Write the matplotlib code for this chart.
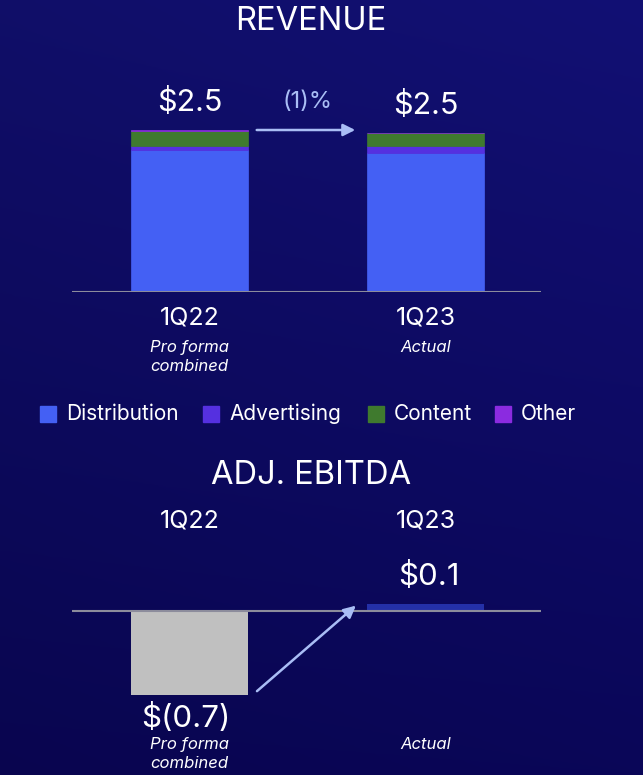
import numpy as np
import matplotlib
matplotlib.use("Agg")
import matplotlib.pyplot as plt
from matplotlib.patches import Rectangle

plt.rcParams['font.family'] = ['Inter', 'DejaVu Sans']

# data ($B)
quarters = ["1Q22", "1Q23"]
subtitles = ["Pro forma\ncombined", "Actual"]
segments = ["Distribution", "Advertising", "Content", "Other"]
distribution = [2.19, 2.15]
advertising = [0.07, 0.10]
content = [0.23, 0.20]
other = [0.01, 0.01]
revenue_labels = ["$2.5", "$2.5"]
revenue_change = "(1)%"
ebitda = [-0.7, 0.06]
ebitda_labels = ["$(0.7)", "$0.1"]

seg_colors = ["#4460f4", "#5530e0", "#3f7a2e", "#8b2be0"]
W, H = 643, 775
bg_top = np.array([0x12, 0x10, 0x74]) / 255
bg_bot = np.array([0x0a, 0x06, 0x58]) / 255
white = "#ffffff"
arrow_col = "#a9bdf5"
axis_col = "#8c8c9c"


def fx(px):
    return px / W


def fy(py):
    return 1 - py / H


fig = plt.figure(figsize=(W / 100, H / 100), dpi=100)

# background gradient
bg = fig.add_axes([0, 0, 1, 1])
t = np.linspace(0, 1, 256)[:, None]
xs = np.linspace(0, 1, 256)[None, :]
grad = bg_top[None, None, :] * (1 - t[..., None]) + bg_bot[None, None, :] * t[..., None]
grad = grad * (0.9 + 0.1 * xs[..., None])
bg.imshow(np.clip(grad, 0, 1), aspect="auto", extent=[0, 1, 0, 1])
bg.axis("off")

x = np.arange(len(quarters))
xlim = ((72 - 189.5) / 236, (541 - 189.5) / 236)

# ---- revenue ----
rev_scale = 64.8  # px per $B
rev_top_val = 3.0
ax1 = fig.add_axes([fx(72), fy(292), fx(541 - 72), rev_top_val * rev_scale / H])
ax1.set_xlim(*xlim)
ax1.set_ylim(0, rev_top_val)
bottom = np.zeros(len(quarters))
for vals, col, name in zip([distribution, advertising, content, other], seg_colors, segments):
    ax1.bar(x, vals, 0.496, bottom=bottom, color=col, edgecolor=col, linewidth=0.5, label=name)
    bottom = bottom + np.array(vals)
ax1.axhline(0, color=axis_col, lw=1.5)
ax1.axis("off")
totals = bottom
for i in range(len(quarters)):
    ax1.text(x[i], totals[i] + 0.2, revenue_labels[i], ha="center", va="bottom",
             color=white, fontsize=22)
ax1.annotate("", xy=(0.714, 2.5), xytext=(0.273, 2.5),
             arrowprops=dict(arrowstyle="-|>", color=arrow_col, lw=1.8, mutation_scale=18))
ax1.text(0.5, 2.76, revenue_change, ha="center", va="bottom", color=arrow_col, fontsize=17)

fig.text(fx(311), fy(22), "REVENUE", ha="center", va="center", color=white, fontsize=23.5)
for i, q in enumerate(quarters):
    cx = 189.5 + 236 * i
    fig.text(fx(cx), fy(318), q, ha="center", va="center", color=white, fontsize=18)
    fig.text(fx(cx), fy(340), subtitles[i], ha="center", va="top", color=white,
             fontsize=12, style="italic", linespacing=1.3)

# legend
leg_x = [40, 203, 368, 495]
for i, name in enumerate(segments):
    fig.patches.append(Rectangle((fx(leg_x[i]), fy(422)), fx(16), 16 / H,
                                 transform=fig.transFigure, color=seg_colors[i]))
    fig.text(fx(leg_x[i] + 26), fy(414), name, ha="left", va="center", color=white, fontsize=15)

# ---- adj. ebitda ----
eb_scale = 120
eb_lo, eb_hi = -0.85, 0.4
ax2 = fig.add_axes([fx(72), fy(611 - eb_lo * eb_scale), fx(541 - 72), (eb_hi - eb_lo) * eb_scale / H])
ax2.set_xlim(*xlim)
ax2.set_ylim(eb_lo, eb_hi)
ax2.bar(x, ebitda, 0.496, color=["#c0c0c0", "#2430a8"])
ax2.axhline(0, color=axis_col, lw=1.5)
ax2.axis("off")
ax2.annotate("", xy=(0.714, 0.06), xytext=(0.277, -0.683),
             arrowprops=dict(arrowstyle="-|>", color=arrow_col, lw=1.8, mutation_scale=18))

fig.text(fx(311), fy(475), "ADJ. EBITDA", ha="center", va="center", color=white, fontsize=23.5)
for i, q in enumerate(quarters):
    cx = 189.5 + 236 * i
    fig.text(fx(cx), fy(521), q, ha="center", va="center", color=white, fontsize=18)
    fig.text(fx(cx), fy(737), subtitles[i], ha="center", va="top", color=white,
             fontsize=12, style="italic", linespacing=1.3)
fig.text(fx(429), fy(576), ebitda_labels[1], ha="center", va="center", color=white, fontsize=22.5)
fig.text(fx(186), fy(718), ebitda_labels[0], ha="center", va="center", color=white, fontsize=22.5)

fig.savefig("out.png", dpi=100)
